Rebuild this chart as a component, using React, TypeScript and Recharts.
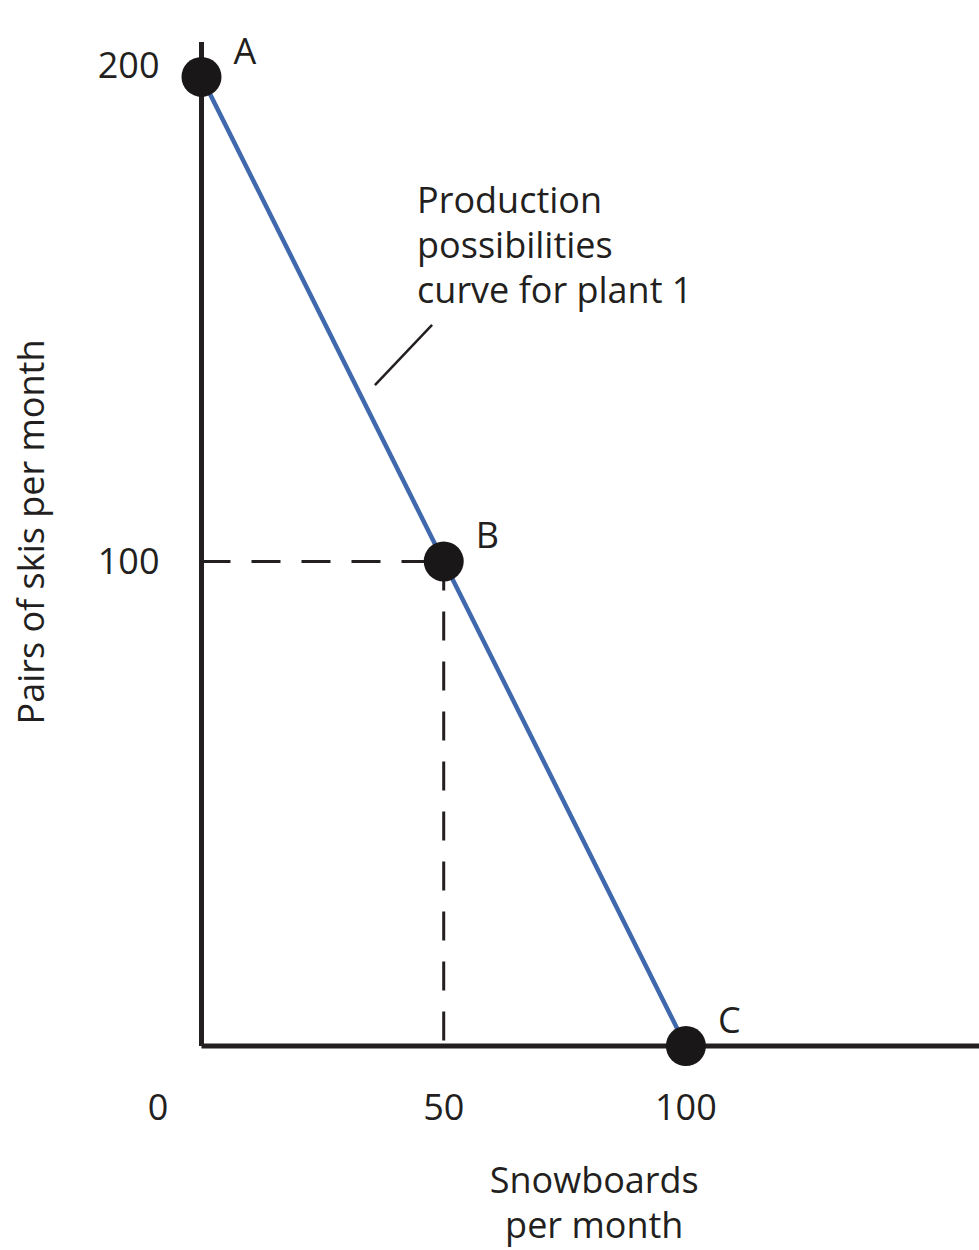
import React from 'react';
import { LineChart, Line, XAxis, YAxis, ReferenceLine, ReferenceDot } from 'recharts';

// ---- data ----
const snowboards = [0, 50, 100];
const skis = [200, 100, 0];
const pointNames = ['A', 'B', 'C'];
const xTicks = [0, 50, 100];
const yTicks = [100, 200];
const xDomainMax = 160.5;
const yDomainMax = 207.2;
const annotationLines = ['Production', 'possibilities', 'curve for plant 1'];
const annotationAnchor = { x: 44.5, y: 171.9 };
const pointerFrom = { x: 35.8, y: 136.4 };
const pointerTo = { x: 47.6, y: 148.8 };
const xTitleLines = ['Snowboards', 'per month'];
const yTitle = 'Pairs of skis per month';

const data = snowboards.map((s, i) => ({ snowboards: s, skis: skis[i], name: pointNames[i] }));

const FONT = '"Open Sans", sans-serif';
const INK = '#231f20';
const BLUE = '#4068ac';
const FS = 36;

const XTick = (props: any) => {
  const { x, y, payload } = props;
  const shift = payload.value === 0 ? -43.5 : 0;
  return (
    <text x={x + shift} y={y + 66} textAnchor="middle" fontFamily={FONT} fontSize={FS} fill={INK}>
      {payload.value}
    </text>
  );
};

const YTick = (props: any) => {
  const { x, y, payload } = props;
  const isTop = payload.value === yTicks[yTicks.length - 1];
  return (
    <text x={x - 34} y={y + (isTop ? 1 : 13)} textAnchor="end" fontFamily={FONT} fontSize={FS} fill={INK}>
      {payload.value}
    </text>
  );
};

const renderDot = (props: any) => {
  const { cx, cy, index } = props;
  return (
    <g key={`dot-${index}`}>
      <circle cx={cx} cy={cy} r={20} fill="#1a1718" />
      <text x={cx + 32} y={cy - 13} fontFamily={FONT} fontSize={FS} fill={INK}>
        {pointNames[index]}
      </text>
    </g>
  );
};

const AnnotationLabel = (props: any) => {
  const vb = props.viewBox || {};
  const x = vb.x + (vb.width || 0) / 2;
  const y = vb.y + (vb.height || 0) / 2;
  return (
    <text x={x} y={y} fontFamily={FONT} fontSize={FS} fill={INK}>
      {annotationLines.map((l, i) => (
        <tspan key={i} x={x} dy={i === 0 ? 0 : 45}>
          {l}
        </tspan>
      ))}
    </text>
  );
};

const XTitle = (props: any) => {
  const vb = props.viewBox || {};
  const cx = vb.x + vb.width / 2 + 4;
  const y = vb.y + 147;
  return (
    <text x={cx} y={y} textAnchor="middle" fontFamily={FONT} fontSize={FS} fill={INK}>
      {xTitleLines.map((l, i) => (
        <tspan key={i} x={cx} dy={i === 0 ? 0 : 45}>
          {l}
        </tspan>
      ))}
    </text>
  );
};

const YTitle = (props: any) => {
  const vb = props.viewBox || {};
  const x = 44;
  const y = vb.y + vb.height / 2 - 12;
  return (
    <text
      x={x}
      y={y}
      transform={`rotate(-90, ${x}, ${y})`}
      textAnchor="middle"
      fontFamily={FONT}
      fontSize={FS}
      fill={INK}
    >
      {yTitle}
    </text>
  );
};

export default function App() {
  return (
    <div style={{ position: 'absolute', left: 0, top: 0, width: 979, height: 1250, background: '#fff' }}>
      <LineChart
        width={979}
        height={1250}
        data={data}
        margin={{ top: 42, right: 0, bottom: 203, left: 200.5 }}
      >
        <XAxis
          type="number"
          dataKey="snowboards"
          domain={[0, xDomainMax]}
          ticks={xTicks}
          axisLine={{ stroke: INK, strokeWidth: 5 }}
          tickLine={false}
          tick={XTick}
          height={1}
          label={{ content: XTitle } as any}
        />
        <YAxis
          type="number"
          domain={[0, yDomainMax]}
          ticks={yTicks}
          axisLine={{ stroke: INK, strokeWidth: 5 }}
          tickLine={false}
          tick={YTick}
          width={1}
          label={{ content: YTitle } as any}
        />
        <ReferenceLine
          segment={[{ x: 0, y: skis[1] }, { x: snowboards[1], y: skis[1] }]}
          stroke={INK}
          strokeWidth={3}
          strokeDasharray="29 21"
        />
        <ReferenceLine
          segment={[{ x: snowboards[1], y: skis[1] }, { x: snowboards[1], y: 0 }]}
          stroke={INK}
          strokeWidth={3}
          strokeDasharray="29 21"
        />
        <ReferenceLine
          segment={[pointerFrom, pointerTo]}
          stroke={INK}
          strokeWidth={2.5}
        />
        <ReferenceDot
          x={annotationAnchor.x}
          y={annotationAnchor.y}
          r={0}
          fill="none"
          stroke="none"
          label={{ content: AnnotationLabel } as any}
        />
        <Line
          type="linear"
          dataKey="skis"
          stroke={BLUE}
          strokeWidth={4.5}
          dot={renderDot}
          activeDot={false}
          isAnimationActive={false}
        />
      </LineChart>
    </div>
  );
}
